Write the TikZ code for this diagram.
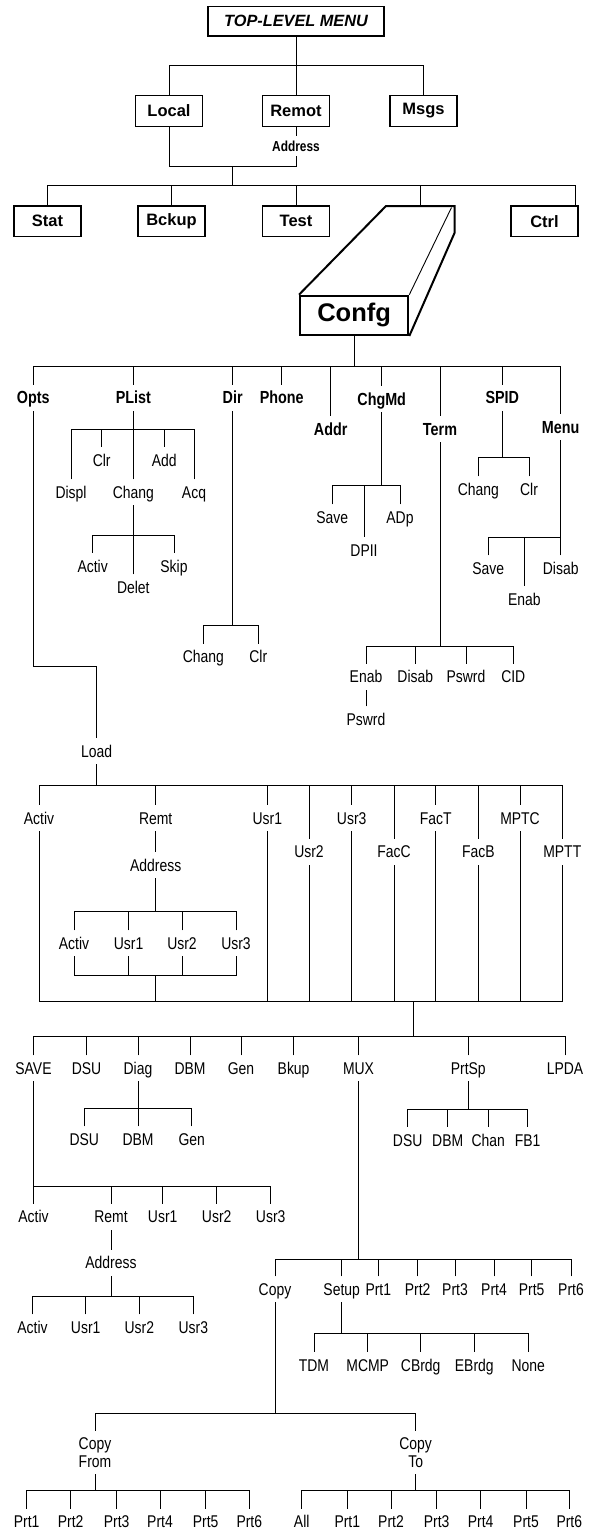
\documentclass[tikz,border=0pt]{standalone}
\usepackage{fontspec}
\setmainfont{Liberation Sans}
\newfontfamily\condf[FakeStretch=0.82]{Liberation Sans}
\newcommand\labfont{\condf\fontsize{17}{18.4}\selectfont}
\newcommand\blabfont{\condf\bfseries\fontsize{17.5}{19}\selectfont}
\newcommand\boxfont{\bfseries\fontsize{16.5}{18}\selectfont}
\newcommand\topfont{\bfseries\itshape\fontsize{16.3}{18}\selectfont}
\newcommand\confgfont{\bfseries\fontsize{25.5}{28}\selectfont}
\newcommand\taddrfont{\condf\bfseries\fontsize{14.5}{16}\selectfont}
\tikzset{
  conn/.style={line width=0.9pt, line cap=rect},
  lab/.style={font=\labfont, text height=12.2pt, text depth=0pt, inner xsep=1pt, inner ysep=7pt},
  blab/.style={font=\blabfont, text height=12.5pt, text depth=0pt, inner xsep=1pt, inner ysep=7pt},
  lab2/.style={font=\labfont, align=center, inner xsep=1pt, inner ysep=7pt},
  mbox/.style={draw, line width=1.2pt, minimum width=67pt, minimum height=30.5pt, inner sep=0pt, font=\boxfont},
  taddr/.style={font=\taddrfont, text height=10.4pt, text depth=0pt, inner xsep=1pt, inner ysep=5.5pt},
}
\begin{document}
\begin{tikzpicture}[x=1pt,y=-1pt]
\useasboundingbox (0,0) rectangle (590,1529);
\fill[white] (0,0) rectangle (590,1529);

% ---------- top level ----------
\node[mbox, minimum width=176pt, minimum height=29.3pt, font=\topfont] (top) at (296,21.3) {TOP-LEVEL MENU};
\node[mbox] (local) at (169,111) {Local};
\node[mbox] (remot) at (296,111) {Remot};
\node[mbox] (msgs) at (423.5,111) {Msgs};
\node[taddr] (taddr) at (296,146) {Address};
\coordinate (b0) at (0,65.7);
\coordinate (j1) at (0,166.7);
\coordinate (j2) at (232.5,166.7);
\coordinate (b2) at (0,185.7);
\draw[conn] (top.south) -- (top.south |- b0);
\draw[conn] (local.north) -- (local.north |- b0) -- (msgs.north |- b0) -- (msgs.north);
\draw[conn] (remot.north) -- (remot.north |- b0);
\draw[conn] (remot.south) -- (taddr.north);
\draw[conn] (local.south) -- (local.south |- j1) -- (taddr.south |- j1) -- (taddr.south);
\draw[conn] (j2) -- (j2 |- b2);

\node[mbox] (stat) at (47.5,221.3) {Stat};
\node[mbox] (bckup) at (171.5,221.3) {Bckup};
\node[mbox] (test) at (296,221.3) {Test};
\node[mbox] (ctrl) at (544.5,221.3) {Ctrl};
\node[draw, line width=2pt, minimum width=108.3pt, minimum height=39.3pt, inner sep=0pt, font=\confgfont] (confg) at (354.15,315.35) {Confg};
\coordinate (cbackL) at (386,206);
\coordinate (cbackR) at (454.5,206);
\coordinate (cbackRb) at (454.5,233);
\coordinate (cthin) at (451.5,207.5);
\coordinate (ctop) at (420.5,206);
\draw[line width=2pt, line join=miter] (confg.north west) -- (cbackL) -- (cbackR) -- (cbackRb) -- (confg.south east);
\draw[line width=0.9pt] (confg.north east) -- (cthin);
\draw[conn] (stat.north) -- (stat.north |- b2) -- ([xshift=-3.5pt]ctrl.north east |- b2) -- ([xshift=-3.5pt]ctrl.north east);
\draw[conn] (bckup.north) -- (bckup.north |- b2);
\draw[conn] (test.north) -- (test.north |- b2);
\draw[conn] (ctop) -- (ctop |- b2);

% ---------- Confg children ----------
\coordinate (bC) at (0,366.7);
\node[blab] (opts) at (33.3,397.7) {Opts};
\node[blab] (plist) at (133.3,397.7) {PList};
\node[blab] (dir) at (232.7,397.7) {Dir};
\node[blab] (phone) at (281.7,397.7) {Phone};
\node[blab] (addr) at (330.7,429) {Addr};
\node[blab] (chgmd) at (381.7,399) {ChgMd};
\node[blab] (term) at (440,429) {Term};
\node[blab] (spid) at (502.3,397.7) {SPID};
\node[blab] (menu) at (560.7,427) {Menu};
\draw[conn] (confg.south) -- (confg.south |- bC);
\draw[conn] (opts.north) -- (opts.north |- bC) -- (menu.north |- bC) -- (menu.north);
\foreach \n in {plist,dir,phone,addr,chgmd,term,spid} \draw[conn] (\n.north) -- (\n.north |- bC);

% PList
\coordinate (bP) at (0,429);
\node[lab] (displ) at (71,492.3) {Displ};
\node[lab] (pclr) at (101.7,460) {Clr};
\node[lab] (pchang) at (133.3,492.3) {Chang};
\node[lab] (padd) at (164.3,460) {Add};
\node[lab] (acq) at (194,492.3) {Acq};
\draw[conn] (plist.south) -- (pchang.north);
\draw[conn] (displ.north) -- (displ.north |- bP) -- (acq.north |- bP) -- (acq.north);
\draw[conn] (pclr.north) -- (pclr.north |- bP);
\draw[conn] (padd.north) -- (padd.north |- bP);
% Chang
\coordinate (bCh) at (0,535);
\node[lab] (cactiv) at (92.7,566) {Activ};
\node[lab] (delet) at (133.3,587.3) {Delet};
\node[lab] (skip) at (174,566) {Skip};
\draw[conn] (pchang.south) -- (delet.north);
\draw[conn] (cactiv.north) -- (cactiv.north |- bCh) -- (skip.north |- bCh) -- (skip.north);

% Dir
\coordinate (bD) at (0,625);
\node[lab] (dchang) at (203.3,656.7) {Chang};
\node[lab] (dclr) at (258.3,656.7) {Clr};
\draw[conn] (dir.south) -- (dir.south |- bD);
\draw[conn] (dchang.north) -- (dchang.north |- bD) -- (dclr.north |- bD) -- (dclr.north);

% ChgMd
\coordinate (bM) at (0,485.7);
\node[lab] (csave) at (332.3,517.3) {Save};
\node[lab] (dpii) at (364,550) {DPII};
\node[lab] (adp) at (400,517.3) {ADp};
\draw[conn] (chgmd.south) -- (chgmd.south |- bM);
\draw[conn] (csave.north) -- (csave.north |- bM) -- (adp.north |- bM) -- (adp.north);
\draw[conn] (dpii.north) -- (dpii.north |- bM);

% Term
\coordinate (bT) at (0,646.7);
\node[lab] (tenab) at (366,676.7) {Enab};
\node[lab] (tdisab) at (415.3,676.7) {Disab};
\node[lab] (tpswrd) at (466,676.7) {Pswrd};
\node[lab] (tcid) at (513.3,676.7) {CID};
\node[lab] (tpswrd2) at (366,719.3) {Pswrd};
\draw[conn] (term.south) -- (term.south |- bT);
\draw[conn] (tenab.north) -- (tenab.north |- bT) -- (tcid.north |- bT) -- (tcid.north);
\draw[conn] (tdisab.north) -- (tdisab.north |- bT);
\draw[conn] (tpswrd.north) -- (tpswrd.north |- bT);
\draw[conn] (tenab.south) -- (tpswrd2.north);

% SPID
\coordinate (bS) at (0,457.3);
\node[lab] (schang) at (478.3,489.3) {Chang};
\node[lab] (sclr) at (529,489.3) {Clr};
\draw[conn] (spid.south) -- (spid.south |- bS);
\draw[conn] (schang.north) -- (schang.north |- bS) -- (sclr.north |- bS) -- (sclr.north);

% Menu
\coordinate (bMe) at (0,537.7);
\node[lab] (msave) at (488.3,568.3) {Save};
\node[lab] (menab) at (524.3,599) {Enab};
\node[lab] (mdisab) at (560.7,568.3) {Disab};
\draw[conn] (menu.south) -- (menu.south |- bMe);
\draw[conn] (msave.north) -- (msave.north |- bMe) -- (mdisab.north |- bMe) -- (mdisab.north);
\draw[conn] (menab.north) -- (menab.north |- bMe);

% Opts -> Load
\coordinate (jO) at (0,666);
\node[lab] (load) at (96.7,751) {Load};
\draw[conn] (opts.south) -- (opts.south |- jO) -- (load.north |- jO) -- (load.north);

% Load children
\coordinate (bL) at (0,785.7);
\coordinate (bBig) at (0,1001);
\node[lab] (lactiv) at (39,818) {Activ};
\node[lab] (lremt) at (155.7,818) {Remt};
\node[lab] (lusr1) at (267.3,818) {Usr1};
\node[lab] (lusr3) at (351.7,818) {Usr3};
\node[lab] (lfact) at (435.7,818) {FacT};
\node[lab] (lmptc) at (520,818) {MPTC};
\node[lab] (lusr2) at (309,851.7) {Usr2};
\node[lab] (lfacc) at (394,851.7) {FacC};
\node[lab] (lfacb) at (478.3,851.7) {FacB};
\node[lab] (lmptt) at (562.3,851.7) {MPTT};
\draw[conn] (load.south) -- (load.south |- bL);
\draw[conn] (lactiv.north) -- (lactiv.north |- bL) -- (lmptt.north |- bL) -- (lmptt.north);
\foreach \n in {lremt,lusr1,lusr3,lfact,lmptc,lusr2,lfacc,lfacb} \draw[conn] (\n.north) -- (\n.north |- bL);
\draw[conn] (lactiv.south) -- (lactiv.south |- bBig) -- (lmptt.south |- bBig) -- (lmptt.south);
\foreach \n in {lusr1,lusr3,lfact,lmptc,lusr2,lfacc,lfacb} \draw[conn] (\n.south) -- (\n.south |- bBig);

% Remt -> Address
\node[lab] (laddr) at (155.7,865) {Address};
\coordinate (bA1) at (0,911.7);
\coordinate (bA2) at (0,975.7);
\node[lab] (ra) at (74,943.3) {Activ};
\node[lab] (ru1) at (128.6,943.3) {Usr1};
\node[lab] (ru2) at (182,943.3) {Usr2};
\node[lab] (ru3) at (236,943.3) {Usr3};
\draw[conn] (lremt.south) -- (laddr.north);
\draw[conn] (laddr.south) -- (laddr.south |- bA1);
\draw[conn] (ra.north) -- (ra.north |- bA1) -- (ru3.north |- bA1) -- (ru3.north);
\draw[conn] (ru1.north) -- (ru1.north |- bA1);
\draw[conn] (ru2.north) -- (ru2.north |- bA1);
\draw[conn] (ra.south) -- (ra.south |- bA2) -- (ru3.south |- bA2) -- (ru3.south);
\draw[conn] (ru1.south) -- (ru1.south |- bA2);
\draw[conn] (ru2.south) -- (ru2.south |- bA2);
\draw[conn] (laddr.south |- bA2) -- (laddr.south |- bBig);

% ---------- lower level ----------
\coordinate (jB) at (413.5,1001);
\coordinate (bS2) at (0,1036.7);
\draw[conn] (jB) -- (jB |- bS2);
\node[lab] (save) at (33.5,1068.3) {SAVE};
\node[lab] (dsu) at (86.5,1068.3) {DSU};
\node[lab] (diag) at (138,1068.3) {Diag};
\node[lab] (dbm) at (190,1068.3) {DBM};
\node[lab] (gen) at (241,1068.3) {Gen};
\node[lab] (bkup) at (293.6,1068.3) {Bkup};
\node[lab] (mux) at (358.5,1068.3) {MUX};
\node[lab] (prtsp) at (468.3,1068.3) {PrtSp};
\node[lab] (lpda) at (565,1068.3) {LPDA};
\draw[conn] (save.north) -- (save.north |- bS2) -- (lpda.north |- bS2) -- (lpda.north);
\foreach \n in {dsu,diag,dbm,gen,bkup,mux,prtsp} \draw[conn] (\n.north) -- (\n.north |- bS2);

% Diag
\coordinate (bDg) at (0,1108.3);
\node[lab] (gdsu) at (84.3,1139.3) {DSU};
\node[lab] (gdbm) at (138,1139.3) {DBM};
\node[lab] (ggen) at (191.7,1139.3) {Gen};
\draw[conn] (diag.south) -- (gdbm.north);
\draw[conn] (gdsu.north) -- (gdsu.north |- bDg) -- (ggen.north |- bDg) -- (ggen.north);

% SAVE
\coordinate (bSv) at (0,1186);
\node[lab] (sactiv) at (33.5,1216.7) {Activ};
\node[lab] (sremt) at (111,1216.7) {Remt};
\node[lab] (susr1) at (162.7,1216.7) {Usr1};
\node[lab] (susr2) at (216.7,1216.7) {Usr2};
\node[lab] (susr3) at (270.7,1216.7) {Usr3};
\draw[conn] (save.south) -- (sactiv.north);
\draw[conn] (sactiv.north |- bSv) -- (susr3.north |- bSv) -- (susr3.north);
\foreach \n in {sremt,susr1,susr2} \draw[conn] (\n.north) -- (\n.north |- bSv);
\node[lab] (saddr) at (111,1262.7) {Address};
\draw[conn] (sremt.south) -- (saddr.north);
\coordinate (bSa) at (0,1296.7);
\node[lab] (aactiv) at (32.5,1327.3) {Activ};
\node[lab] (ausr1) at (85.7,1327.3) {Usr1};
\node[lab] (ausr2) at (139.3,1327.3) {Usr2};
\node[lab] (ausr3) at (193.3,1327.3) {Usr3};
\draw[conn] (saddr.south) -- (saddr.south |- bSa);
\draw[conn] (aactiv.north) -- (aactiv.north |- bSa) -- (ausr3.north |- bSa) -- (ausr3.north);
\draw[conn] (ausr1.north) -- (ausr1.north |- bSa);
\draw[conn] (ausr2.north) -- (ausr2.north |- bSa);

% PrtSp
\coordinate (bPs) at (0,1109);
\node[lab] (pdsu) at (407.7,1140) {DSU};
\node[lab] (pdbm) at (447.7,1140) {DBM};
\node[lab] (pchan) at (488.3,1140) {Chan};
\node[lab] (pfb) at (527.7,1140) {FB1};
\draw[conn] (prtsp.south) -- (prtsp.south |- bPs);
\draw[conn] (pdsu.north) -- (pdsu.north |- bPs) -- (pfb.north |- bPs) -- (pfb.north);
\draw[conn] (pdbm.north) -- (pdbm.north |- bPs);
\draw[conn] (pchan.north) -- (pchan.north |- bPs);

% MUX
\coordinate (bMx) at (0,1259);
\node[lab] (mcopy) at (275,1289.3) {Copy};
\node[lab] (msetup) at (341.7,1289.3) {Setup};
\node[lab] (mp1) at (378.3,1289.3) {Prt1};
\node[lab] (mp2) at (417.7,1289.3) {Prt2};
\node[lab] (mp3) at (455,1289.3) {Prt3};
\node[lab] (mp4) at (494,1289.3) {Prt4};
\node[lab] (mp5) at (531.7,1289.3) {Prt5};
\node[lab] (mp6) at (571,1289.3) {Prt6};
\draw[conn] (mux.south) -- (mux.south |- bMx);
\draw[conn] (mcopy.north) -- (mcopy.north |- bMx) -- (mp6.north |- bMx) -- (mp6.north);
\foreach \n in {msetup,mp1,mp2,mp3,mp4,mp5} \draw[conn] (\n.north) -- (\n.north |- bMx);

% Setup
\coordinate (bSu) at (0,1333.3);
\node[lab] (tdm) at (314,1365) {TDM};
\node[lab] (mcmp) at (367.7,1365) {MCMP};
\node[lab] (cbrdg) at (420.7,1365) {CBrdg};
\node[lab] (ebrdg) at (474.3,1365) {EBrdg};
\node[lab] (none) at (528.3,1365) {None};
\draw[conn] (msetup.south) -- (msetup.south |- bSu);
\draw[conn] (tdm.north) -- (tdm.north |- bSu) -- (none.north |- bSu) -- (none.north);
\foreach \n in {mcmp,cbrdg,ebrdg} \draw[conn] (\n.north) -- (\n.north |- bSu);

% Copy
\coordinate (bCp) at (0,1413.3);
\node[lab2] (cfrom) at (95,1452.5) {Copy\\From};
\node[lab2] (cto) at (415.7,1452.5) {Copy\\To};
\draw[conn] (mcopy.south) -- (mcopy.south |- bCp);
\draw[conn] (cfrom.north) -- (cfrom.north |- bCp) -- (cto.north |- bCp) -- (cto.north);

\coordinate (bCf) at (0,1490.7);
\node[lab] (f1) at (26.7,1521.7) {Prt1};
\node[lab] (f2) at (70.7,1521.7) {Prt2};
\node[lab] (f3) at (116.7,1521.7) {Prt3};
\node[lab] (f4) at (160,1521.7) {Prt4};
\node[lab] (f5) at (205.7,1521.7) {Prt5};
\node[lab] (f6) at (249.3,1521.7) {Prt6};
\draw[conn] (cfrom.south) -- (cfrom.south |- bCf);
\draw[conn] (f1.north) -- (f1.north |- bCf) -- (f6.north |- bCf) -- (f6.north);
\foreach \n in {f2,f3,f4,f5} \draw[conn] (\n.north) -- (\n.north |- bCf);

\node[lab] (tall) at (301.7,1521.7) {All};
\node[lab] (t1) at (347.3,1521.7) {Prt1};
\node[lab] (t2) at (391,1521.7) {Prt2};
\node[lab] (t3) at (436.7,1521.7) {Prt3};
\node[lab] (t4) at (480.7,1521.7) {Prt4};
\node[lab] (t5) at (526,1521.7) {Prt5};
\node[lab] (t6) at (569.3,1521.7) {Prt6};
\draw[conn] (cto.south) -- (cto.south |- bCf);
\draw[conn] (tall.north) -- (tall.north |- bCf) -- (t6.north |- bCf) -- (t6.north);
\foreach \n in {t1,t2,t3,t4,t5} \draw[conn] (\n.north) -- (\n.north |- bCf);
\end{tikzpicture}
\end{document}
